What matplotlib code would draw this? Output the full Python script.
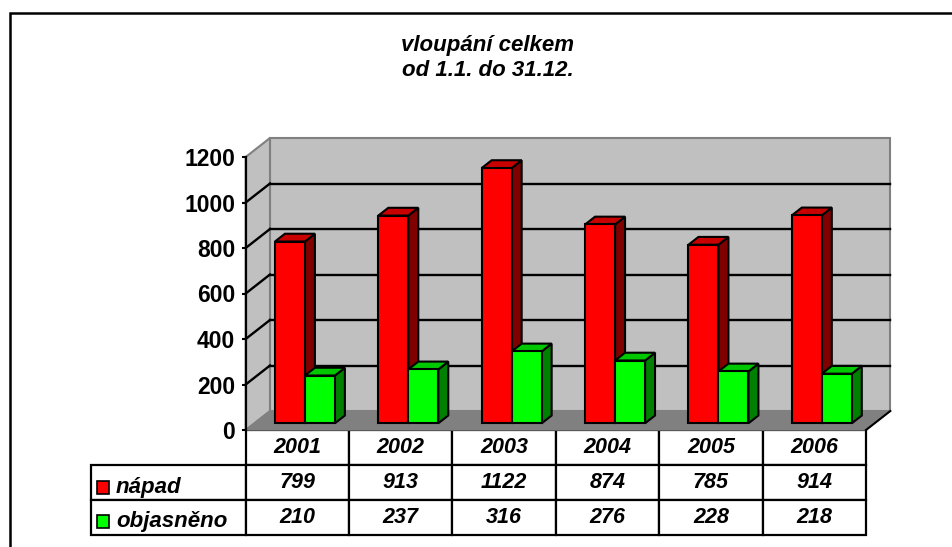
import matplotlib
matplotlib.use("Agg")
import matplotlib.pyplot as plt
from matplotlib.patches import Polygon, Rectangle
from matplotlib.lines import Line2D

# --- data -------------------------------------------------------------
years = ["2001", "2002", "2003", "2004", "2005", "2006"]
napad = [799, 913, 1122, 874, 785, 914]
objasneno = [210, 237, 316, 276, 228, 218]
series_names = ["nápad", "objasněno"]
y_ticks = [0, 200, 400, 600, 800, 1000, 1200]
title_lines = ["vloupání celkem", "od 1.1. do 31.12."]

# --- style ------------------------------------------------------------
plt.rcParams["font.family"] = ["Liberation Sans", "DejaVu Sans"]
front_colors = ["#FF0000", "#00FF00"]
side_colors = ["#800000", "#008000"]
top_colors = ["#C80000", "#00C800"]
WALL = "#C0C0C0"
WALL_EDGE = "#808080"
FLOOR = "#808080"

W, H = 952, 547
fig = plt.figure(figsize=(W / 100, H / 100), dpi=100)


def fx(px):
    return px / W


def fy(py):
    return 1 - py / H


# front plane of the 3-D plot: x = category index, y = value
ax = fig.add_axes([fx(245.7), fy(430), (866 - 245.7) / W, (430 - 157) / H])
n = len(years)
ax.set_xlim(0, n)
ax.set_ylim(0, y_ticks[-1])
ax.patch.set_visible(False)

# depth of the box (in data units) and of each column
DX, DY = 0.235, 83.5
BDX, BDY = 0.41 * DX, 0.41 * DY
F0 = 0.353                      # columns stand this far back on the floor
BAR_W = 0.29
BAR_OFF = [0.20, 0.49]
top = y_ticks[-1]

# walls and floor
ax.add_patch(Polygon([(DX, DY), (n + DX, DY), (n + DX, top + DY), (DX, top + DY)],
                     closed=True, facecolor=WALL, edgecolor=WALL_EDGE, lw=1.5,
                     zorder=1, clip_on=False))
ax.add_patch(Polygon([(0, 0), (DX, DY), (DX, top + DY), (0, top)],
                     closed=True, facecolor=WALL, edgecolor=WALL_EDGE, lw=1.5,
                     zorder=1, clip_on=False))
ax.add_patch(Polygon([(0, 0), (n, 0), (n + DX, DY), (DX, DY)],
                     closed=True, facecolor=FLOOR, edgecolor=WALL_EDGE, lw=1.0,
                     zorder=1.1, clip_on=False))
ax.add_line(Line2D([n, n + DX], [0, DY], color="black", lw=1.5, zorder=1.2,
                   clip_on=False))

# gridlines on the back wall and the side wall
for v in y_ticks[1:-1]:
    ax.add_line(Line2D([DX, n + DX], [v + DY, v + DY], color="black", lw=1.7,
                       zorder=1.5, clip_on=False))
    ax.add_line(Line2D([0, DX], [v, v + DY], color="black", lw=1.7,
                       zorder=1.5, clip_on=False))

# 3-D columns
for i in range(n):
    for s, values in enumerate([napad, objasneno]):
        v = values[i]
        x0 = i + BAR_OFF[s] + F0 * DX
        x1 = x0 + BAR_W
        y0 = F0 * DY
        y1 = v + y0
        z = 3 + i * 0.1 + s * 0.01
        kw = dict(edgecolor="black", lw=1.5, joinstyle="miter", clip_on=False,
                  zorder=z)
        ax.add_patch(Polygon([(x1, y0), (x1 + BDX, y0 + BDY),
                              (x1 + BDX, y1 + BDY), (x1, y1)],
                             closed=True, facecolor=side_colors[s], **kw))
        ax.add_patch(Polygon([(x0, y1), (x1, y1), (x1 + BDX, y1 + BDY),
                              (x0 + BDX, y1 + BDY)],
                             closed=True, facecolor=top_colors[s], **kw))
        ax.add_patch(Rectangle((x0, y0), BAR_W, v, facecolor=front_colors[s],
                               **kw))

# value axis
ax.set_yticks(y_ticks)
ax.set_yticklabels([str(t) for t in y_ticks], fontweight="bold")
ax.tick_params(axis="y", length=3, width=1.5, pad=4.5, labelsize=16.5,
               colors="black")
ax.set_xticks([])
for side in ["top", "right", "bottom"]:
    ax.spines[side].set_visible(False)
ax.spines["left"].set_linewidth(1.6)
ax.spines["left"].set_zorder(2.5)

# data table under the plot
cell_text = [[""] + years,
             [""] + [str(v) for v in napad],
             [""] + [str(v) for v in objasneno]]
label_w = 155 / 103.4
tbl = ax.table(cellText=cell_text, colWidths=[label_w] + [1] * n,
               cellLoc="center",
               bbox=[-155 / 620.3, -(534.5 - 430) / 273, 775.3 / 620.3,
                     (534.5 - 430) / 273])
tbl.auto_set_font_size(False)
for (r, c), cell in tbl.get_celld().items():
    cell.set_linewidth(1.6)
    cell.set_edgecolor("black")
    cell.set_facecolor("white")
    t = cell.get_text()
    t.set_fontsize(15.5)
    t.set_fontweight("bold")
    t.set_fontstyle("italic")
tbl[0, 0].visible_edges = "open"
tbl[0, 0].set_facecolor("none")

# legend keys inside the table's label column
key_rows = [(481, 487), (515, 521)]
for s, name in enumerate(series_names):
    ky, ty = key_rows[s]
    fig.add_artist(Rectangle((fx(96.7), fy(ky + 12.5)), 12.5 / W, 12.5 / H,
                             transform=fig.transFigure,
                             facecolor=front_colors[s], edgecolor="black",
                             lw=1.2))
    fig.text(fx(116), fy(ty), name, ha="left", va="center", fontsize=16,
             fontweight="bold", fontstyle="italic")

# title
fig.text(fx(487.5), fy(51), title_lines[0], ha="center", va="baseline",
         fontsize=16, fontweight="bold", fontstyle="italic")
fig.text(fx(487.5), fy(75.7), title_lines[1], ha="center", va="baseline",
         fontsize=16, fontweight="bold", fontstyle="italic")

# chart frame
fig.add_artist(Rectangle((fx(10), fy(600)), (1000 - 10) / W, (600 - 13) / H,
                         transform=fig.transFigure, fill=False,
                         edgecolor="black", lw=1.8))

fig.savefig("out.png", dpi=100)
